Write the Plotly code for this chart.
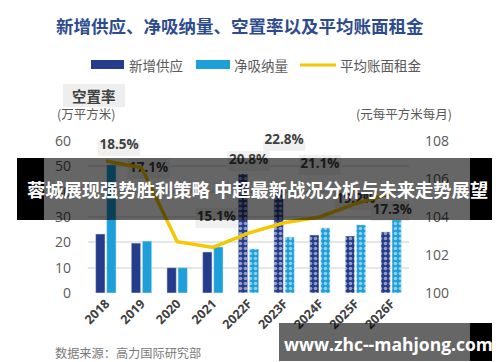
import plotly.graph_objects as go

# ---------------- data ----------------
categories = ["2018", "2019", "2020", "2021", "2022F", "2023F", "2024F", "2025F", "2026F"]
new_supply = [23.3, 19.7, 10.0, 16.2, 47.0, 40.7, 22.9, 22.5, 24.1]      # 新增供应 (万平方米)
net_absorption = [50.6, 20.5, 10.0, 18.2, 17.4, 22.1, 25.7, 26.9, 28.9]  # 净吸纳量 (万平方米)
avg_rent = [106.95, 106.6, 102.7, 102.4, 103.15, 103.7, 104.0, 104.7, 105.25]  # 平均账面租金
vacancy = ["18.5%", "17.1%", None, "15.1%", "20.8%", "22.8%", "21.1%", "19.2%", "17.3%"]  # 空置率
forecast = [False, False, False, False, True, True, True, True, True]

# label placement (styling)
label_y = [58.0, 49.0, None, 29.6, 52.1, 60.0, 50.5, 36.7, 32.4]
label_dx = [0.37, 0.2, 0, 0.1, 0, 0, 0, 0, 0.03]

DARK = "#253c8c"
LIGHT = "#1d9fda"
YELLOW = "#f4c800"

# plot area in pixels
X0, X1, Y0, Y1 = 80, 401, 133, 285
def px(x):
    return (x - X0) / (X1 - X0)
def py(y):
    return (Y1 - y) / (Y1 - Y0)

xs = list(range(len(categories)))
pat = ["." if f else "" for f in forecast]

fig = go.Figure()
fig.add_trace(go.Bar(
    x=xs, y=new_supply, name="新增供应", marker_color=DARK, showlegend=False,
    marker_pattern=dict(shape=pat, fgcolor="white", size=5, solidity=0.4),
))
fig.add_trace(go.Bar(
    x=xs, y=net_absorption, name="净吸纳量", marker_color=LIGHT, showlegend=False,
    marker_pattern=dict(shape=pat, fgcolor="white", size=5, solidity=0.4),
))
fig.add_trace(go.Scatter(
    x=xs, y=avg_rent, yaxis="y2", mode="lines", name="平均账面租金",
    line=dict(color=YELLOW, width=3.5), showlegend=False,
))

lx = [i + d for i, d, v in zip(xs, label_dx, vacancy) if v]
ly = [y for y, v in zip(label_y, vacancy) if v]
lt = [v for v in vacancy if v]
fig.add_trace(go.Scatter(
    x=lx, y=ly, mode="text", text=lt, cliponaxis=False, showlegend=False,
    textfont=dict(family="Open Sans", size=13.5, color="#404040", weight="bold"),
    hoverinfo="skip",
))

shapes = []
unit_px = (X1 - X0) / len(categories)
unit_y = (Y1 - Y0) / 60
for x, y in zip(lx, ly):
    shapes.append(dict(type="rect", xref="x", yref="y", layer="between",
                       x0=x - 21 / unit_px, x1=x + 21 / unit_px,
                       y0=y - 10 / unit_y, y1=y + 10 / unit_y,
                       fillcolor="#f0f0f0", line_width=0))

def prect(x0, y0, x1, y1, color, layer="above"):
    return dict(type="rect", xref="paper", yref="paper", layer=layer,
                x0=px(x0), x1=px(x1), y0=py(y1), y1=py(y0),
                fillcolor=color, line_width=0)

# manual legend
shapes.append(prect(83, 52, 116, 61, DARK))
shapes.append(prect(188, 52, 222, 61, LIGHT))
shapes.append(dict(type="line", xref="paper", yref="paper", x0=px(292), x1=px(328),
                   y0=py(57), y1=py(57), line=dict(color=YELLOW, width=3)))
# 空置率 box
shapes.append(prect(55, 76, 117, 99, "#eeeeee"))
# overlay banner
shapes.append(prect(9, 150, 36, 212, "#000000"))
shapes.append(prect(36, 150, 462, 212, "rgba(0,0,0,0.6)"))
shapes.append(prect(462, 150, 491, 212, "#000000"))
# watermark
shapes.append(prect(271, 315, 462, 353, "rgba(0,0,0,0.6)"))
shapes.append(prect(462, 315, 491, 353, "#000000"))

CJK = "Noto Sans CJK SC"
def ann(text, x, y, size, color, xanchor="left", weight="normal", family=CJK):
    return dict(text=text, xref="paper", yref="paper", x=px(x), y=py(y),
                xanchor=xanchor, yanchor="middle", showarrow=False,
                font=dict(family=family, size=size, color=color, weight=weight))

annotations = [
    ann("新增供应、净吸纳量、空置率以及平均账面租金", 46, 17, 17.5, "#2e4b8e", weight="bold"),
    ann("新增供应", 119, 57, 13.5, "#595959"),
    ann("净吸纳量", 224, 57, 13.5, "#595959"),
    ann("平均账面租金", 330, 57, 13.5, "#595959"),
    ann("空置率", 86, 87, 14.5, "#404040", xanchor="center", weight="bold"),
    ann("(万平方米)", 47, 105, 12.5, "#595959"),
    ann("(元每平方米每月)", 446, 105, 12.5, "#595959", xanchor="right"),
    ann("数据来源：高力国际研究部", 45, 345, 12.2, "#7a7a7a"),
    ann("蓉城展现强势胜利策略 中超最新战况分析与未来走势展望", 250, 181, 18.3, "white",
        xanchor="center", weight="bold"),
    ann("www.zhc--mahjong.com", 380, 336, 17.5, "white", xanchor="center",
        weight="bold", family="Open Sans"),
]

fig.update_layout(
    width=500, height=362, autosize=False,
    margin=dict(l=X0, r=500 - X1, t=Y0, b=362 - Y1, pad=0),
    paper_bgcolor="white", plot_bgcolor="white",
    barmode="group", bargap=0.38, bargroupgap=0.15,
    showlegend=False,
    xaxis=dict(range=[-0.5, len(categories) - 0.5], tickmode="array", tickvals=xs,
               ticktext=categories, tickangle=-45, showgrid=False, zeroline=False,
               showline=False, ticks="",
               tickfont=dict(family="Open Sans", size=12.5, color="#404040", weight="bold")),
    yaxis=dict(range=[0, 60], dtick=10, showgrid=True, gridcolor="#e6e6e6", gridwidth=1.5,
               zeroline=False, showline=False, ticks="", ticklabelstandoff=16,
               tickfont=dict(family="Open Sans", size=14, color="#595959")),
    yaxis2=dict(range=[100, 108], dtick=2, overlaying="y", side="right", showgrid=False,
                zeroline=False, showline=False, ticks="", ticklabelstandoff=15,
                tickfont=dict(family="Open Sans", size=14, color="#595959")),
    shapes=shapes, annotations=annotations,
)

fig.write_html("out.html")
